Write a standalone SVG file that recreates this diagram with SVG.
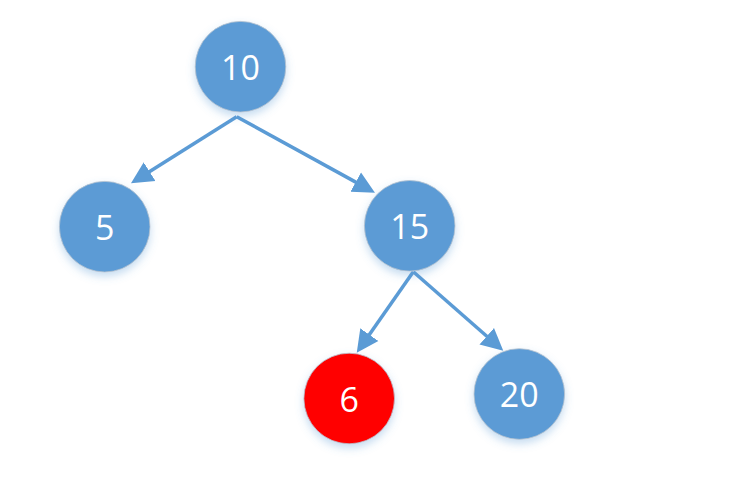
<svg xmlns="http://www.w3.org/2000/svg" width="737" height="487" viewBox="0 0 737 487">
<defs>
<style>
.node circle{fill:#5B9BD5;stroke:#b8c4d0;stroke-width:0.8;filter:url(#sh);}
.node.red circle{fill:#FF0000;}
.node text{fill:#fff;font-family:"Open Sans","Liberation Sans",sans-serif;font-size:34px;text-anchor:middle;dominant-baseline:central;}
.edge{stroke:#5B9BD5;stroke-width:3.5;fill:none;marker-end:url(#ah);}
</style>
<filter id="sh" x="-30%" y="-30%" width="160%" height="170%">
<feDropShadow dx="0" dy="4" stdDeviation="4" flood-color="#5B9BD5" flood-opacity="0.35"/>
</filter>
<marker id="ah" markerUnits="userSpaceOnUse" markerWidth="24" markerHeight="24" refX="13" refY="11" orient="auto" viewBox="0 0 24 22">
<path d="M0,0 L22,11 L0,22 z" fill="#5B9BD5"/>
</marker>
</defs>
<rect width="737" height="487" fill="#fff"/>
<g id="connectors">
<path class="edge" d="M236.7,116.7 L138.6,178.5"/>
<path class="edge" d="M236.7,116.7 L367.1,188.4"/>
<path class="edge" d="M413.3,271.7 L361.9,345.3"/>
<path class="edge" d="M413.3,271.7 L496.5,344.8"/>
</g>
<g id="n10" class="node"><circle cx="240.5" cy="66.7" r="45.3"/><text x="240.5" y="66.7">10</text></g>
<g id="n5" class="node"><circle cx="104.7" cy="226.7" r="45.3"/><text x="104.7" y="226.7">5</text></g>
<g id="n15" class="node"><circle cx="409.7" cy="225.8" r="45.3"/><text x="409.7" y="225.8">15</text></g>
<g id="n6" class="node red"><circle cx="349.2" cy="398.5" r="45.3"/><text x="349.2" y="398.5">6</text></g>
<g id="n20" class="node"><circle cx="519.3" cy="394" r="45.3"/><text x="519.3" y="394">20</text></g>
</svg>
